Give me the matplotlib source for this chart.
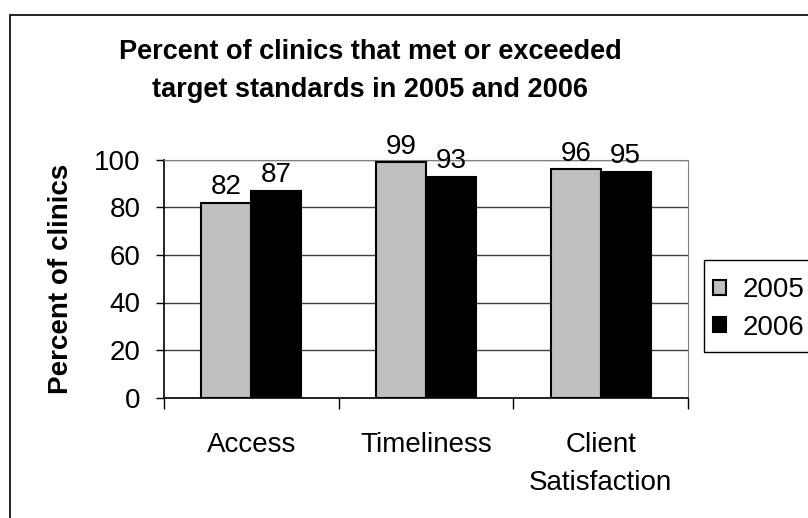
import numpy as np
import matplotlib.pyplot as plt
from matplotlib.patches import Rectangle

plt.rcParams['font.family'] = ['Liberation Sans', 'DejaVu Sans']

# data
categories = ["Access", "Timeliness", "Client\nSatisfaction"]
vals_2005 = [82, 99, 96]
vals_2006 = [87, 93, 95]
series_names = ["2005", "2006"]
y_ticks = [0, 20, 40, 60, 80, 100]

W, H = 808, 518
fig = plt.figure(figsize=(W / 100, H / 100), dpi=100)
ax = fig.add_axes([164 / W, 1 - 397.5 / H, (688 - 164) / W, (397.5 - 160) / H])

# outer chart border (right/bottom run off the image)
fig.patches.append(Rectangle((10 / W, -0.2), 1.5, 1.2 - 15 / H,
                             transform=fig.transFigure, fill=False,
                             edgecolor="black", linewidth=1.2))

x = np.arange(len(categories))
w = 0.286
b1 = ax.bar(x - w / 2, vals_2005, w, color="#c0c0c0", edgecolor="black",
            linewidth=1.5, label=series_names[0], zorder=3)
b2 = ax.bar(x + w / 2, vals_2006, w, color="black", edgecolor="black",
            linewidth=1.5, label=series_names[1], zorder=3)

for bars in (b1, b2):
    for r in bars:
        ax.text(r.get_x() + r.get_width() / 2, r.get_height() + 1.2,
                f"{r.get_height():.0f}", ha="center", va="bottom", fontsize=20)

ax.set_xlim(-0.5, len(categories) - 0.5)
ax.set_ylim(0, 100)
ax.set_yticks(y_ticks)
ax.tick_params(axis="y", direction="out", length=6, width=1, labelsize=20, pad=11)

# category boundaries as ticks, labels centered between
ax.set_xticks(np.arange(-0.5, len(categories)))
ax.set_xticklabels([])
ax.tick_params(axis="x", which="major", direction="out", length=8, width=1)
ax.set_xticks(x, minor=True)
ax.set_xticklabels(categories, minor=True, fontsize=20, linespacing=1.6)
ax.tick_params(axis="x", which="minor", length=0, pad=25)

ax.grid(axis="y", color="#404040", linewidth=1, zorder=0)
ax.set_axisbelow(True)
for s in ("top", "right"):
    ax.spines[s].set_color("#808080")
for s in ("left", "bottom"):
    ax.spines[s].set_color("black")
    ax.spines[s].set_linewidth(1.2)

ax.set_ylabel("Percent of clinics", fontsize=20, fontweight="bold", labelpad=14)

fig.text(370 / W, 1 - 71 / H,
         "Percent of clinics that met or exceeded\ntarget standards in 2005 and 2006",
         ha="center", va="center", fontsize=19.5, fontweight="bold", linespacing=1.6)

# legend box drawn by hand, entries from the legend
fig.patches.append(Rectangle((704 / W, 1 - 352 / H), 0.3, 92 / H,
                             transform=fig.transFigure, fill=False,
                             edgecolor="black", linewidth=1))
leg = fig.legend(handles=[b1, b2], loc="center left",
                 bbox_to_anchor=(713 / W, 1 - 309 / H),
                 fontsize=20, frameon=False,
                 handlelength=0.45, handleheight=0.45, handletextpad=0.6,
                 borderpad=0, labelspacing=0.42, borderaxespad=0)

fig.savefig("out.png", dpi=100)
